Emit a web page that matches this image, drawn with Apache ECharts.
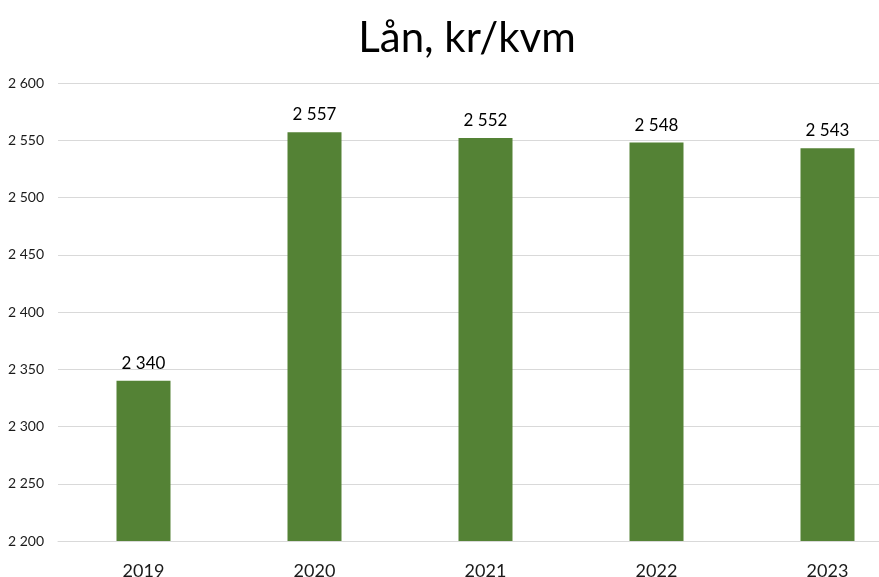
<!DOCTYPE html>
<html>
<head>
<meta charset="utf-8">
<script src="https://cdn.jsdelivr.net/npm/echarts@6/dist/echarts.min.js"></script>
<style>
  html, body { margin: 0; padding: 0; background: #fff; overflow: hidden; }
  #chart { width: 879px; height: 577px; }
</style>
</head>
<body>
<div id="chart"></div>
<script>
// Loan per square metre, by year
const years = ['2019', '2020', '2021', '2022', '2023'];
const loanPerSqm = [2340, 2557, 2552, 2548, 2543];
const axisMin = 2200;
const axisMax = 2600;
const axisStep = 50;

// Numbers with a space as the thousands separator
function fmt(v) {
  return String(v).replace(/\B(?=(\d{3})+(?!\d))/g, ' ');
}

const chart = echarts.init(document.getElementById('chart'));
chart.setOption({
  animation: false,
  textStyle: { fontFamily: 'Lato, "Open Sans", sans-serif' },
  title: {
    text: 'Lån, kr/kvm',
    left: 462,
    top: 12,
    textAlign: 'center',
    textStyle: { fontSize: 42, fontWeight: 'normal', color: '#000', fontFamily: 'Lato, sans-serif' }
  },
  // the plot runs on past the right edge of the canvas
  grid: { left: 58, top: 83, width: 855, height: 458, containLabel: false, outerBoundsMode: 'none' },
  xAxis: {
    type: 'category',
    data: years,
    axisLine: { show: true, lineStyle: { color: '#d9d9d9', width: 1 } },
    axisTick: { show: false },
    axisLabel: { fontSize: 18, color: '#1a1a1a', margin: 21 }
  },
  yAxis: {
    type: 'value',
    min: axisMin,
    max: axisMax,
    interval: axisStep,
    axisLine: { show: false },
    axisTick: { show: false },
    splitLine: { lineStyle: { color: '#d9d9d9', width: 1 } },
    axisLabel: { fontSize: 14, color: '#1a1a1a', margin: 14, formatter: fmt }
  },
  series: [{
    type: 'bar',
    data: loanPerSqm,
    barWidth: 54,
    itemStyle: { color: '#548235' },
    label: {
      show: true,
      position: 'top',
      distance: 9,
      fontSize: 17,
      color: '#000',
      formatter: p => fmt(p.value)
    }
  }]
});
</script>
</body>
</html>
